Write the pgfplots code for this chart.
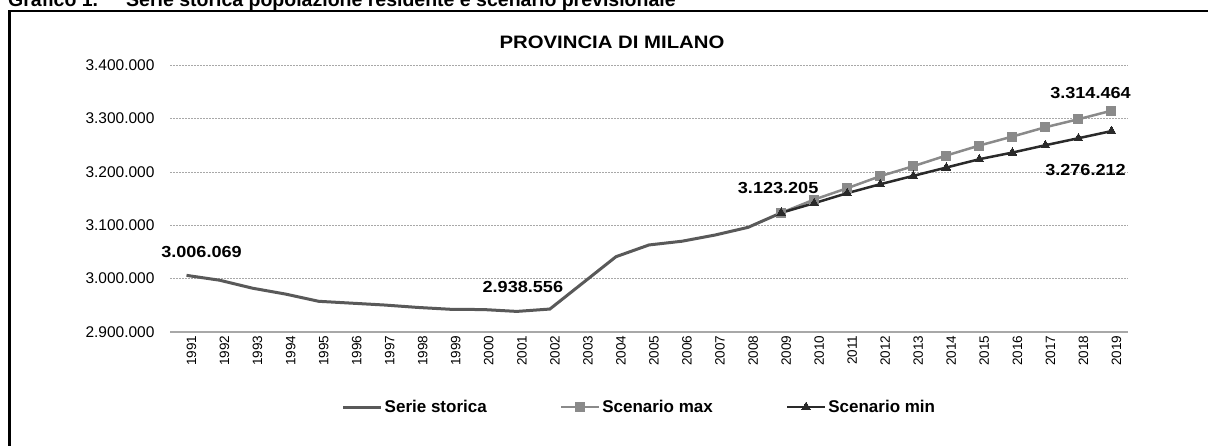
\documentclass[border=0pt]{standalone}
\usepackage{pgfplots}
\pgfplotsset{compat=1.18}
\usepackage{fontspec}
\setmainfont{Liberation Sans}
\newfontfamily\stretchfont{Liberation Sans}[FakeStretch=1.13]
\definecolor{storica}{HTML}{595959}
\definecolor{smax}{HTML}{8A8A8A}
\definecolor{smin}{HTML}{2A2A2A}
\definecolor{gridc}{HTML}{A8A8A8}
\begin{document}
\begin{tikzpicture}[x=1pt,y=1pt]
\useasboundingbox (0,0) rectangle (1208,445);
\node[anchor=base west,inner sep=0pt,font=\fontsize{19.5}{21}\selectfont\bfseries] at (8,438) {Grafico 1.};
\node[anchor=base west,inner sep=0pt,font=\fontsize{19.5}{21}\selectfont\bfseries] at (126,438) {Serie storica popolazione residente e scenario previsionale};
\draw[line width=2.6pt] (9.5,-20) -- (9.5,434) -- (1230,434);
\begin{axis}[
  at={(170pt,113pt)}, anchor=south west,
  scale only axis, width=958pt, height=267pt,
  xmin=-0.5, xmax=28.5, ymin=2900000, ymax=3400000,
  ytick={2900000,3000000,3100000,3200000,3300000,3400000},
  xtick={0,...,28},
  xticklabels={1991,1992,1993,1994,1995,1996,1997,1998,1999,2000,2001,2002,2003,2004,2005,2006,2007,2008,2009,2010,2011,2012,2013,2014,2015,2016,2017,2018,2019},
  xticklabel style={rotate=90, anchor=east, font=\fontsize{13.5}{15}\selectfont, xshift=0pt, yshift=-5pt},
  yticklabel style={font=\fontsize{15.5}{17}\selectfont, xshift=-12pt},
  /pgf/number format/.cd, 1000 sep={.}, fixed, assume math mode=true,
  /pgfplots/.cd,
  scaled y ticks=false,
  major tick length=0pt,
  axis x line*=bottom, axis y line*=left,
  x axis line style={draw=gridc, line width=1.2pt},
  y axis line style={draw=none},
  ymajorgrids, grid style={dashed, draw=gridc, line width=0.6pt, dash pattern=on 2pt off 1pt},
  clip=false,
  legend columns=3,
  legend style={at={(0.4900,-0.2809)}, anchor=center, draw=none, fill=none,
    font=\fontsize{17}{19}\selectfont\bfseries,
    /tikz/every even column/.append style={column sep=71pt},
    /tikz/every odd column/.append style={column sep=0pt},
    nodes={inner sep=2pt}},
  legend image code/.code={\draw[mark repeat=2,mark phase=2,#1] plot coordinates {(0pt,0pt) (19pt,0pt) (38pt,0pt)};},
]
\addplot[storica, line width=3pt, no markers] coordinates {
(0,3006069) (1,2997000) (2,2982000) (3,2971000) (4,2957500) (5,2954000) (6,2950500) (7,2946000) (8,2942500) (9,2942000) (10,2938556) (11,2943000) (12,2992000) (13,3041000) (14,3063000) (15,3070000) (16,3081600) (17,3096000) (18,3123205)};
\addlegendentry{Serie storica}
\addplot[smax, line width=2.5pt, mark=square*, mark size=4.5pt, mark options={solid, line width=0pt, fill=smax}] coordinates {
(18,3123205) (19,3148000) (20,3169300) (21,3191800) (22,3210500) (23,3230500) (24,3249200) (25,3266000) (26,3283500) (27,3298500) (28,3314464)};
\addlegendentry{Scenario max}
\addplot[smin, line width=2.5pt, mark=triangle*, mark size=5pt, mark options={solid, line width=0pt, fill=smin}] coordinates {
(18,3123205) (19,3141200) (20,3160000) (21,3176800) (22,3192400) (23,3208000) (24,3223600) (25,3236000) (26,3249800) (27,3262900) (28,3276212)};
\addlegendentry{Scenario min}
\node[font=\fontsize{16}{18}\stretchfont\bfseries, xshift=15pt, yshift=23pt] at (axis cs:0,3006069) {3.006.069};
\node[font=\fontsize{16}{18}\stretchfont\bfseries, xshift=6pt, yshift=24pt] at (axis cs:10,2938556) {2.938.556};
\node[font=\fontsize{16}{18}\stretchfont\bfseries, xshift=-3pt, yshift=25pt] at (axis cs:18,3123205) {3.123.205};
\node[font=\fontsize{16}{18}\stretchfont\bfseries, xshift=-21pt, yshift=18pt] at (axis cs:28,3314464) {3.314.464};
\node[font=\fontsize{16}{18}\stretchfont\bfseries, xshift=-26pt, yshift=-39pt] at (axis cs:28,3276212) {3.276.212};
\end{axis}
\node[font=\fontsize{18}{20}\stretchfont\bfseries] at (612,403) {PROVINCIA DI MILANO};
\end{tikzpicture}
\end{document}
